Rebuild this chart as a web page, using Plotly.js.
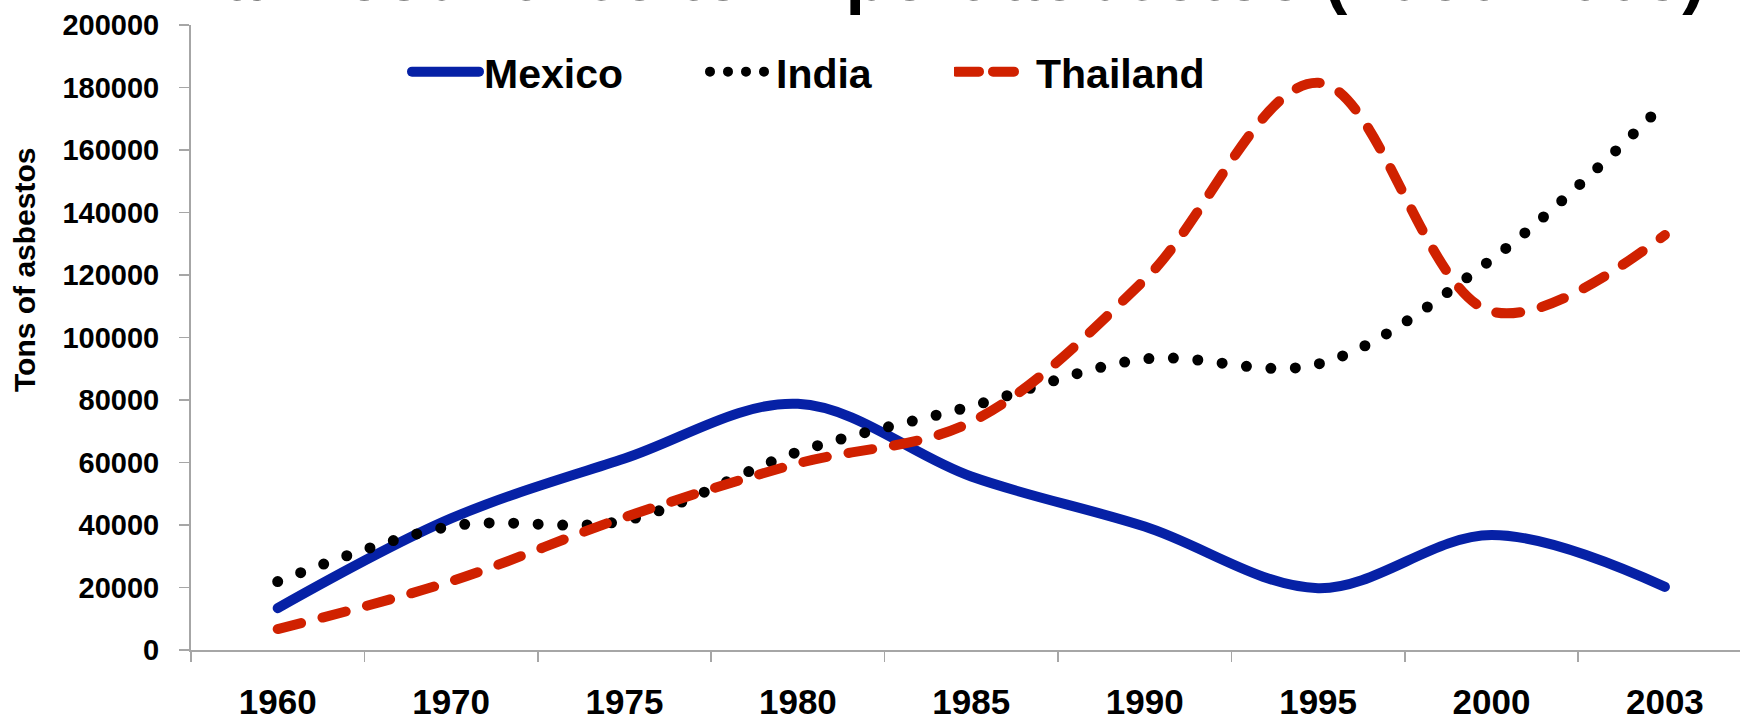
<!DOCTYPE html>
<html>
<head>
<meta charset="utf-8">
<script src="https://cdn.plot.ly/plotly-3.0.1.min.js"></script>
<style>
html,body{margin:0;padding:0;background:#fff;}
#chart{width:1740px;height:724px;}
</style>
</head>
<body>
<div id="chart"></div>
<script>
// ---- data ----
const years = ['1960', '1970', '1975', '1980', '1985', '1990', '1995', '2000', '2003'];
const mexico = [13400, 42100, 61300, 78800, 55500, 39500, 19800, 36800, 20200];
const india = [21900, 39600, 41400, 63400, 78000, 93100, 91500, 125000, 175000];
const thailand = [6700, 22000, 42500, 59700, 73000, 118500, 181500, 108300, 132800];
const seriesNames = ['Mexico', 'India', 'Thailand'];
const yTicks = [0, 20000, 40000, 60000, 80000, 100000, 120000, 140000, 160000, 180000, 200000];
const chartTitle = 'Main countries to import asbestos (1960-2003)';
const yTitle = 'Tons of asbestos';

// ---- layout constants ----
const W = 1740, H = 724;
const ML = 191, MR = 0, MT = 25, MB = 74;
const PW = W - ML - MR, PH = H - MT - MB;
const catW = 173.4;
const xMax = -0.5 + PW / catW;
const FONT = '"Liberation Sans", Arial, Helvetica, sans-serif';
const px2x = p => (p - ML) / PW;
const px2y = p => (H - MB - p) / PH;

const traces = [
  {x: years, y: mexico, name: seriesNames[0], type: 'scatter', mode: 'lines',
   line: {color: '#0621A6', width: 10, shape: 'spline', smoothing: 1}, legend: 'legend'},
  {x: years, y: india, name: seriesNames[1], type: 'scatter', mode: 'lines',
   line: {color: '#000000', width: 11, shape: 'spline', smoothing: 1, dash: '0px,24.5px'}, legend: 'legend2'},
  {x: years, y: thailand, name: seriesNames[2], type: 'scatter', mode: 'lines',
   line: {color: '#D02100', width: 10, shape: 'spline', smoothing: 1, dash: '24px,22px'}, legend: 'legend3'}
];

// legend sample geometry: path start/end measured back from the text start
const legendSamples = [
  {a: 77, b: 10, dash: null},
  {a: 71, b: 15.5, dash: '0px,18px'},
  {a: 85, b: 27, dash: '23px,14px'}
];

const LEG_W = 72;
function legendAt(xpx) {
  return {
    x: px2x(xpx), xref: 'paper', xanchor: 'left',
    y: px2y(72), yref: 'paper', yanchor: 'middle',
    orientation: 'h', bgcolor: 'rgba(0,0,0,0)', borderwidth: 0,
    itemwidth: LEG_W, itemclick: false, itemdoubleclick: false,
    font: {family: FONT, size: 41, color: '#000', weight: 'bold'}
  };
}

const layout = {
  width: W, height: H,
  margin: {l: ML, r: MR, t: MT, b: MB, pad: 0},
  paper_bgcolor: '#fff', plot_bgcolor: '#fff',
  showlegend: true,
  legend: legendAt(402),
  legend2: legendAt(694),
  legend3: legendAt(954),
  xaxis: {
    type: 'category', range: [-0.5, xMax], fixedrange: true,
    tickson: 'boundaries', ticks: 'outside', ticklen: 10, tickwidth: 1.5, tickcolor: '#A6A6A6',
    showline: true, linecolor: '#A6A6A6', linewidth: 2,
    showgrid: false, zeroline: false,
    tickfont: {family: FONT, size: 35, color: '#000', weight: 'bold'},
    ticklabelstandoff: 20
  },
  yaxis: {
    range: [0, 200000], fixedrange: true,
    tickmode: 'array', tickvals: yTicks, ticktext: yTicks.map(String),
    ticks: 'outside', ticklen: 10, tickwidth: 1.5, tickcolor: '#A6A6A6',
    showline: true, linecolor: '#A6A6A6', linewidth: 2,
    showgrid: false, zeroline: false,
    tickfont: {family: FONT, size: 29, color: '#000', weight: 'bold'},
    ticklabelstandoff: 14
  },
  annotations: [
    {text: yTitle, xref: 'paper', yref: 'paper', x: px2x(24), y: px2y(270),
     xanchor: 'center', yanchor: 'middle', textangle: -90, showarrow: false,
     font: {family: FONT, size: 30, color: '#000', weight: 'bold'}},
    {text: chartTitle, xref: 'paper', yref: 'paper', x: px2x(935), y: px2y(-24),
     xanchor: 'center', yanchor: 'middle', showarrow: false,
     font: {family: FONT, size: 70, color: '#000', weight: 'bold'}}
  ]
};

function finish(gd) {
  gd.querySelectorAll('.scatterlayer .js-line').forEach(p => {
    p.style.strokeLinecap = 'round';
    p.style.strokeLinejoin = 'round';
  });
  const legendIds = ['legend', 'legend2', 'legend3'];
  legendIds.forEach((id, i) => {
    const g = gd.querySelector('g.' + id) || gd.querySelectorAll('g.legend, g[class^="legend"]')[i];
    if (!g) return;
    const p = g.querySelector('.legendlines path');
    if (!p) return;
    const d = p.getAttribute('d') || '';
    const m = d.match(/M\s*(-?[\d.]+)[ ,](-?[\d.]+)\s*h\s*(-?[\d.]+)/);
    if (!m) return;
    const cx = parseFloat(m[1]) + parseFloat(m[3]) / 2;
    const textStart = cx + 46;
    const s = legendSamples[i];
    const x0 = textStart - s.a, x1 = textStart - s.b;
    p.setAttribute('d', 'M' + x0 + ',0h' + (x1 - x0));
    p.style.strokeLinecap = 'round';
    if (s.dash) p.style.strokeDasharray = s.dash;
  });
}

Plotly.newPlot('chart', traces, layout, {displayModeBar: false, staticPlot: true})
  .then(gd => finish(gd));
</script>
</body>
</html>
